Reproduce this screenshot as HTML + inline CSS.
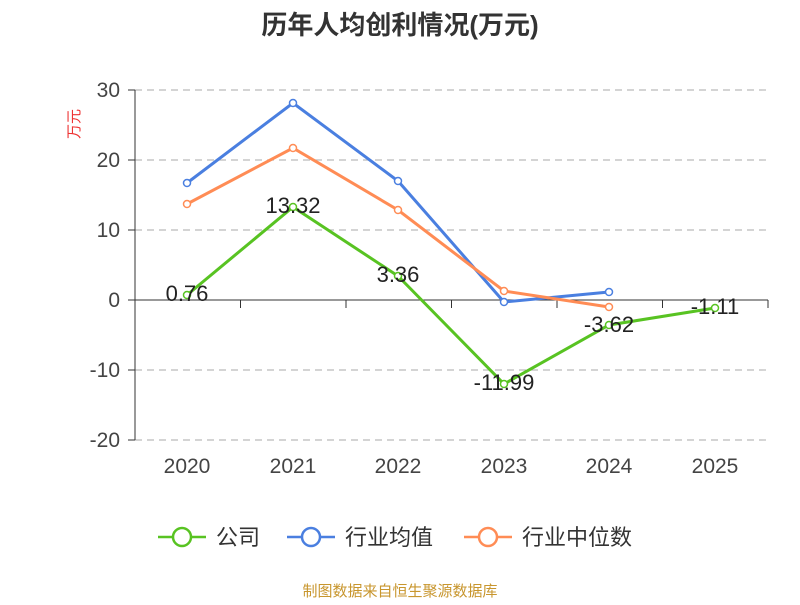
<!DOCTYPE html>
<html><head><meta charset="utf-8"><style>
body{margin:0;background:#fff;width:800px;height:600px;overflow:hidden}
svg text{font-family:"Liberation Sans","Noto Sans CJK SC",sans-serif}
</style></head><body>
<svg width="800" height="600" viewBox="0 0 800 600">
<text x="400" y="34" text-anchor="middle" font-size="26" font-weight="bold" fill="#333">历年人均创利情况(万元)</text>
<text x="74" y="124" font-size="15" fill="#e33" transform="rotate(-90 74 124)" text-anchor="middle" dy="5">万元</text>
<g stroke="#bbb" stroke-dasharray="7,5" stroke-width="1.2">
<line x1="135" y1="90" x2="768" y2="90"/><line x1="135" y1="160" x2="768" y2="160"/>
<line x1="135" y1="230" x2="768" y2="230"/><line x1="135" y1="370" x2="768" y2="370"/>
<line x1="135" y1="440" x2="768" y2="440"/>
</g>
<line x1="135" y1="90" x2="135" y2="440" stroke="#333"/>
<g stroke="#333"><line x1="128" y1="90" x2="135" y2="90"/><line x1="128" y1="160" x2="135" y2="160"/><line x1="128" y1="230" x2="135" y2="230"/><line x1="128" y1="300" x2="135" y2="300"/><line x1="128" y1="370" x2="135" y2="370"/><line x1="128" y1="440" x2="135" y2="440"/></g>
<line x1="135" y1="300" x2="768" y2="300" stroke="#333"/>
<g stroke="#333"><line x1="135" y1="300" x2="135" y2="308"/><line x1="240.5" y1="300" x2="240.5" y2="308"/><line x1="346" y1="300" x2="346" y2="308"/><line x1="451.5" y1="300" x2="451.5" y2="308"/><line x1="557" y1="300" x2="557" y2="308"/><line x1="662.5" y1="300" x2="662.5" y2="308"/><line x1="768" y1="300" x2="768" y2="308"/></g>
<g font-size="21" fill="#444" text-anchor="end">
<text x="120" y="97">30</text><text x="120" y="167">20</text><text x="120" y="237">10</text><text x="120" y="307">0</text><text x="120" y="377">-10</text><text x="120" y="447">-20</text></g>
<g font-size="21" fill="#444" text-anchor="middle">
<text x="187" y="473">2020</text><text x="293" y="473">2021</text><text x="398" y="473">2022</text><text x="504" y="473">2023</text><text x="609" y="473">2024</text><text x="715" y="473">2025</text></g>
<g fill="#fff" stroke-width="3">
<polyline points="187,183 293,103 398,181 504,302 609,292" fill="none" stroke="#4a7fe0"/>
<polyline points="187,204 293,148 398,210 504,291 609,307" fill="none" stroke="#ff8c55"/>
<polyline points="187,295 293,207 398,276 504,384 609,325 715,308" fill="none" stroke="#58c322"/>
</g>
<g fill="#fff" stroke-width="1.5">
<g stroke="#4a7fe0"><circle cx="187" cy="183" r="3.5"/><circle cx="293" cy="103" r="3.5"/><circle cx="398" cy="181" r="3.5"/><circle cx="504" cy="302" r="3.5"/><circle cx="609" cy="292" r="3.5"/></g>
<g stroke="#ff8c55"><circle cx="187" cy="204" r="3.5"/><circle cx="293" cy="148" r="3.5"/><circle cx="398" cy="210" r="3.5"/><circle cx="504" cy="291" r="3.5"/><circle cx="609" cy="307" r="3.5"/></g>
<g stroke="#58c322"><circle cx="187" cy="295" r="3.5"/><circle cx="293" cy="207" r="3.5"/><circle cx="398" cy="276" r="3.5"/><circle cx="504" cy="384" r="3.5"/><circle cx="609" cy="325" r="3.5"/><circle cx="715" cy="308" r="3.5"/></g>
</g>
<g font-size="22" fill="#222" text-anchor="middle">
<text x="187" y="301">0.76</text><text x="293" y="213">13.32</text><text x="398" y="282">3.36</text><text x="504" y="390">-11.99</text><text x="609" y="332">-3.62</text><text x="715" y="314">-1.11</text></g>
<g stroke-width="2.5" fill="#fff">
<line x1="158" y1="537" x2="206" y2="537" stroke="#58c322"/><circle cx="182" cy="537" r="9" stroke="#58c322"/>
<line x1="287" y1="537" x2="335" y2="537" stroke="#4a7fe0"/><circle cx="311" cy="537" r="9" stroke="#4a7fe0"/>
<line x1="464" y1="537" x2="512" y2="537" stroke="#ff8c55"/><circle cx="488" cy="537" r="9" stroke="#ff8c55"/>
</g>
<g font-size="22" fill="#333"><text x="216" y="545">公司</text><text x="345" y="545">行业均值</text><text x="522" y="545">行业中位数</text></g>
<text x="400" y="596" text-anchor="middle" font-size="15" fill="#c8962e">制图数据来自恒生聚源数据库</text>
</svg>
</body></html>
